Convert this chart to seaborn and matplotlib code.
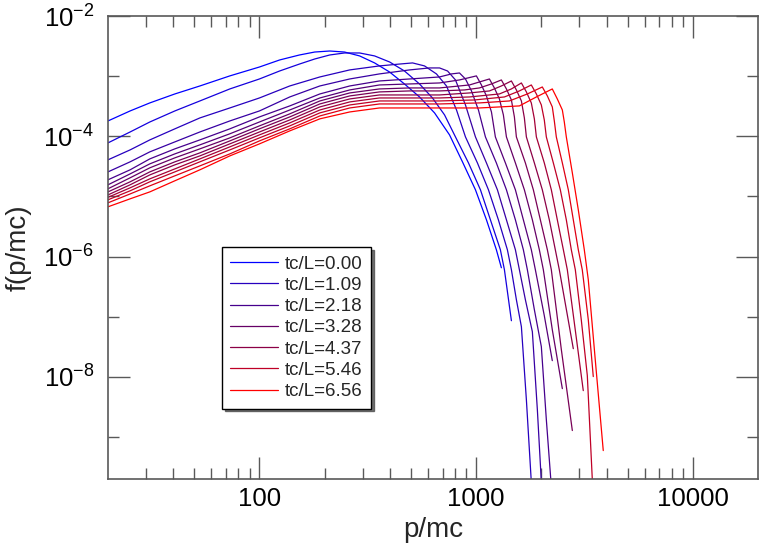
import matplotlib
matplotlib.use("Agg")
import numpy as np
import pandas as pd
import matplotlib.pyplot as plt
import seaborn as sns
from matplotlib.ticker import FixedLocator, FixedFormatter, NullFormatter

# time labels, one per curve (legend shows every other one)
tcL = [0.00, 0.55, 1.09, 1.64, 2.18, 2.73, 3.28, 3.82, 4.37, 4.92, 5.46, 6.01, 6.56]

# momentum p/mc and distribution f(p/mc)
p0 = [20, 25.3, 31.2, 40.7, 53.1, 73.0, 100, 124, 153, 180, 211, 247, 290, 340,
      399, 467, 548, 643, 754, 865, 993, 1116, 1240, 1308]
f0 = [1.80e-4, 2.64e-4, 3.59e-4, 5.06e-4, 6.87e-4, 1.01e-3, 1.42e-3, 1.86e-3,
      2.25e-3, 2.52e-3, 2.62e-3, 2.52e-3, 2.17e-3, 1.66e-3, 1.17e-3, 7.42e-4,
      4.51e-4, 2.45e-4, 1.055e-4, 3.76e-5, 1.29e-5, 4.09e-6, 1.30e-6, 6.52e-7]

p1 = [20, 25.3, 31.2, 40.7, 53.1, 73.0, 100, 124, 153, 180, 211, 247, 290, 340,
      399, 467, 548, 629, 715, 803, 922, 1047, 1164, 1294, 1351, 1455]
f1 = [7.77e-5, 1.18e-4, 1.73e-4, 2.64e-4, 3.87e-4, 6.13e-4, 8.98e-4, 1.22e-3,
      1.59e-3, 1.93e-3, 2.25e-3, 2.43e-3, 2.43e-3, 2.17e-3, 1.72e-3, 1.22e-3,
      7.42e-4, 4.34e-4, 2.27e-4, 9.77e-5, 3.61e-5, 1.29e-5, 4.09e-6, 1.30e-6,
      6.04e-7, 8.58e-8]

p2 = [20, 25.3, 31.2, 40.7, 53.1, 73.0, 100, 138, 190, 261, 358, 443, 509, 578,
      656, 730, 812, 893, 1014, 1140, 1267, 1394, 1455, 1534, 1618, 1706, 1818]
f2 = [4.06e-5, 5.94e-5, 8.71e-5, 1.33e-4, 2.02e-4, 2.96e-4, 4.34e-4, 6.87e-4,
      9.70e-4, 1.27e-3, 1.48e-3, 1.59e-3, 1.66e-3, 1.48e-3, 1.09e-3, 6.87e-4,
      2.74e-4, 9.77e-5, 3.61e-5, 1.29e-5, 4.09e-6, 1.30e-6, 6.04e-7, 1.92e-7,
      6.82e-8, 4.18e-9, 9.1e-11]

p3 = [20, 25.3, 31.2, 40.7, 53.1, 73.0, 100, 138, 190, 261, 358, 493, 609, 678,
      738, 803, 893, 993, 1116, 1254, 1380, 1518, 1584, 1688, 1818, 1917, 2021]
f3 = [2.56e-5, 3.76e-5, 5.51e-5, 8.07e-5, 1.18e-4, 1.80e-4, 2.64e-4, 4.51e-4,
      6.87e-4, 8.98e-4, 1.09e-3, 1.27e-3, 1.37e-3, 1.37e-3, 1.22e-3, 8.65e-4,
      3.32e-4, 9.77e-5, 3.61e-5, 1.29e-5, 4.09e-6, 1.30e-6, 6.04e-7, 1.92e-7,
      5.63e-8, 2.85e-9, 9.1e-11]

p4 = [20, 25.3, 31.2, 40.7, 53.1, 73.0, 100, 138, 190, 261, 358, 493, 678, 770,
      838, 893, 952, 1025, 1104, 1240, 1380, 1518, 1652, 1724, 1857, 2000, 2109, 2247]
f4 = [1.89e-5, 2.77e-5, 4.21e-5, 6.18e-5, 8.71e-5, 1.33e-4, 2.10e-4, 3.20e-4,
      5.06e-4, 6.87e-4, 8.32e-4, 8.98e-4, 9.70e-4, 1.09e-3, 1.13e-3, 8.98e-4,
      5.68e-4, 2.74e-4, 9.77e-5, 3.61e-5, 1.29e-5, 4.09e-6, 1.30e-6, 6.04e-7,
      1.31e-7, 3.18e-8, 1.95e-9, 9.1e-11]

p5 = [20, 25.3, 31.2, 40.7, 53.1, 73.0, 100, 138, 190, 261, 358, 493, 678, 838,
      1003, 1058, 1116, 1177, 1227, 1365, 1518, 1652, 1798, 1877, 2064, 2247]
f5 = [1.56e-5, 2.37e-5, 3.48e-5, 5.10e-5, 7.20e-5, 1.10e-4, 1.73e-4, 2.74e-4,
      4.34e-4, 5.90e-4, 7.14e-4, 7.42e-4, 7.71e-4, 8.65e-4, 1.01e-3, 7.14e-4,
      4.69e-4, 2.54e-4, 9.77e-5, 3.61e-5, 1.29e-5, 4.09e-6, 1.30e-6, 6.04e-7,
      1.04e-7, 1.86e-8]

p6 = [20, 25.3, 31.2, 40.7, 53.1, 73.0, 100, 138, 190, 261, 358, 493, 678, 932,
      1152, 1214, 1281, 1336, 1380, 1518, 1670, 1818, 1958, 2043, 2247, 2500]
f6 = [1.34e-5, 2.04e-5, 2.99e-5, 4.38e-5, 6.18e-5, 9.41e-5, 1.49e-4, 2.36e-4,
      3.87e-4, 5.26e-4, 6.13e-4, 6.37e-4, 6.37e-4, 7.14e-4, 8.98e-4, 6.37e-4,
      4.18e-4, 2.27e-4, 9.77e-5, 3.61e-5, 1.29e-5, 4.09e-6, 1.30e-6, 6.04e-7,
      6.08e-8, 6.37e-9]

p7 = [20, 25.3, 31.2, 40.7, 53.1, 73.0, 100, 138, 190, 261, 358, 493, 678, 884,
      1036, 1177, 1308, 1380, 1455, 1502, 1534, 1688, 1837, 1979, 2132, 2224,
      2474, 2780]
f7 = [1.19e-5, 1.75e-5, 2.56e-5, 3.76e-5, 5.30e-5, 8.38e-5, 1.33e-4, 2.10e-4,
      3.45e-4, 4.69e-4, 5.47e-4, 5.68e-4, 5.68e-4, 5.90e-4, 6.37e-4, 7.42e-4,
      8.65e-4, 6.13e-4, 4.02e-4, 2.10e-4, 9.77e-5, 3.61e-5, 1.29e-5, 4.09e-6,
      1.30e-6, 6.04e-7, 2.83e-8, 1.28e-9]

p8 = [20, 25.3, 31.2, 40.7, 53.1, 73.0, 100, 138, 190, 261, 358, 493, 678, 932,
      1152, 1308, 1455, 1534, 1618, 1670, 1706, 1857, 2021, 2177, 2320, 2421, 2809]
f8 = [1.06e-5, 1.56e-5, 2.28e-5, 3.35e-5, 4.72e-5, 7.48e-5, 1.18e-4, 1.87e-4,
      3.08e-4, 4.18e-4, 4.87e-4, 4.87e-4, 4.87e-4, 5.26e-4, 5.68e-4, 6.87e-4,
      8.32e-4, 5.90e-4, 3.87e-4, 2.02e-4, 9.77e-5, 3.61e-5, 1.29e-5, 4.09e-6,
      1.30e-6, 6.04e-7, 2.94e-8]

p9 = [20, 25.3, 31.2, 40.7, 53.1, 73.0, 100, 138, 190, 261, 358, 493, 678, 932,
      1281, 1455, 1618, 1706, 1798, 1857, 1897, 2064, 2224, 2370, 2527, 2636, 3123]
f9 = [9.66e-6, 1.39e-5, 1.96e-5, 2.87e-5, 4.21e-5, 6.67e-5, 1.055e-4, 1.67e-4,
      2.74e-4, 3.73e-4, 4.34e-4, 4.34e-4, 4.34e-4, 4.51e-4, 5.06e-4, 6.13e-4,
      7.71e-4, 5.47e-4, 3.59e-4, 1.95e-4, 9.77e-5, 3.61e-5, 1.29e-5, 4.09e-6,
      1.30e-6, 6.04e-7, 5.90e-9]

p10 = [20, 25.3, 31.2, 40.7, 53.1, 73.0, 100, 138, 190, 261, 358, 493, 678, 982,
       1351, 1584, 1798, 1897, 2000, 2064, 2109, 2272, 2447, 2608, 2750, 2870,
       3057, 3260, 3473]
f10 = [8.78e-6, 1.24e-5, 1.75e-5, 2.56e-5, 3.76e-5, 5.94e-5, 9.41e-5, 1.49e-4,
       2.45e-4, 3.32e-4, 3.87e-4, 3.87e-4, 3.87e-4, 4.02e-4, 4.51e-4, 5.68e-4,
       7.14e-4, 5.06e-4, 3.32e-4, 1.87e-4, 9.77e-5, 3.61e-5, 1.29e-5, 4.09e-6,
       1.30e-6, 6.04e-7, 8.92e-8, 1.05e-8, 9.1e-11]

p11 = [20, 25.3, 31.2, 40.7, 53.1, 73.0, 100, 138, 190, 261, 358, 493, 678, 1036,
       1424, 1724, 2021, 2132, 2247, 2296, 2345, 2500, 2664, 2809, 2962, 3090,
       3294, 3473]
f11 = [7.83e-6, 1.10e-5, 1.50e-5, 2.20e-5, 3.22e-5, 5.10e-5, 8.38e-5, 1.33e-4,
       2.18e-4, 2.96e-4, 3.45e-4, 3.45e-4, 3.45e-4, 3.59e-4, 3.87e-4, 5.06e-4,
       6.61e-4, 4.69e-4, 3.08e-4, 1.80e-4, 9.77e-5, 3.61e-5, 1.29e-5, 4.09e-6,
       1.30e-6, 6.04e-7, 8.92e-8, 1.01e-8]

p12 = [20, 25.3, 31.2, 40.7, 53.1, 73.0, 100, 138, 190, 261, 358, 493, 678, 1036,
       1584, 1897, 2247, 2370, 2500, 2553, 2608, 2780, 2962, 3157, 3294, 3547, 3862]
f12 = [6.72e-6, 9.12e-6, 1.19e-5, 1.82e-5, 2.77e-5, 4.72e-5, 7.48e-5, 1.23e-4,
       1.95e-4, 2.54e-4, 2.96e-4, 2.96e-4, 2.96e-4, 2.96e-4, 3.20e-4, 4.51e-4,
       6.13e-4, 4.18e-4, 2.74e-4, 1.73e-4, 9.77e-5, 2.47e-5, 5.99e-6, 1.30e-6,
       4.12e-7, 1.93e-8, 5.94e-10]

p_all = [p0, p1, p2, p3, p4, p5, p6, p7, p8, p9, p10, p11, p12]
f_all = [f0, f1, f2, f3, f4, f5, f6, f7, f8, f9, f10, f11, f12]

x_ticks = [100, 1000, 10000]
x_minor = [30, 40, 50, 60, 70, 80, 90, 200, 300, 400, 500, 600, 700, 800, 900,
           2000, 3000, 4000, 5000, 6000, 7000, 8000, 9000]
x_ticklabels = ["100", "1000", "10000"]
y_ticks = [1e-8, 1e-6, 1e-4, 1e-2]
y_minor = [1e-9, 1e-7, 1e-5, 1e-3]
y_ticklabels = ["$10^{-8}$", "$10^{-6}$", "$10^{-4}$", "$10^{-2}$"]

rows = []
for t, p, f in zip(tcL, p_all, f_all):
    for pi, fi in zip(p, f):
        rows.append({"p": pi, "f": fi, "label": f"tc/L={t:.2f}"})
df = pd.DataFrame(rows)

labels = [f"tc/L={t:.2f}" for t in tcL]

# blue -> red, a little darker through the middle
palette = {}
for lab, t in zip(labels, tcL):
    s = t / tcL[-1]
    dim = 1.0 - 0.2 * np.sin(np.pi * s)
    palette[lab] = (s * dim, 0.0, (1.0 - s) * dim)

sns.set_theme(style="ticks")
plt.rcParams["font.family"] = ["Liberation Sans", "DejaVu Sans"]
plt.rcParams["mathtext.default"] = "regular"

fig = plt.figure(figsize=(7.68, 5.47), dpi=100)
ax = fig.add_axes([0.1406, 0.1243, 0.8464, 0.8464])
ax.set_xscale("log")
ax.set_yscale("log")

sns.lineplot(
    data=df, x="p", y="f", hue="label", hue_order=labels,
    palette=palette, estimator=None, sort=False,
    lw=0.9, legend=False, ax=ax
)

ax.set_xlim(20, 20000)
ax.set_ylim(2e-10, 1e-2)

ax.xaxis.set_major_locator(FixedLocator(x_ticks))
ax.xaxis.set_major_formatter(FixedFormatter(x_ticklabels))
ax.xaxis.set_minor_locator(FixedLocator(x_minor))
ax.xaxis.set_minor_formatter(NullFormatter())
ax.yaxis.set_major_locator(FixedLocator(y_ticks))
ax.yaxis.set_major_formatter(FixedFormatter(y_ticklabels))
ax.yaxis.set_minor_locator(FixedLocator(y_minor))
ax.yaxis.set_minor_formatter(NullFormatter())

ax.tick_params(which="both", direction="in", top=True, right=True,
               color="0.35", width=1.0, labelsize=18.5, labelcolor="black")
ax.tick_params(which="major", length=16)
ax.tick_params(which="minor", length=8)
ax.tick_params(axis="x", pad=6)
ax.tick_params(axis="y", pad=10)

for side in ax.spines.values():
    side.set_color("0.35")
    side.set_linewidth(1.2)

ax.set_xlabel("p/mc", fontsize=20, labelpad=4)
ax.set_ylabel("f(p/mc)", fontsize=20, labelpad=8)

lines = ax.get_lines()
leg = ax.legend(
    handles=lines[0::2], labels=labels[0::2],
    loc="upper left", bbox_to_anchor=(0.175, 0.501), borderaxespad=0,
    fontsize=13.5, handlelength=2.56, handletextpad=0.37, labelspacing=0.22,
    frameon=True, fancybox=False, framealpha=1, edgecolor="black",
    shadow={"alpha": 0.8}, borderpad=0.45
)
leg.get_frame().set_linewidth(1.0)

plt.savefig("out.png", dpi=100)
plt.close()
